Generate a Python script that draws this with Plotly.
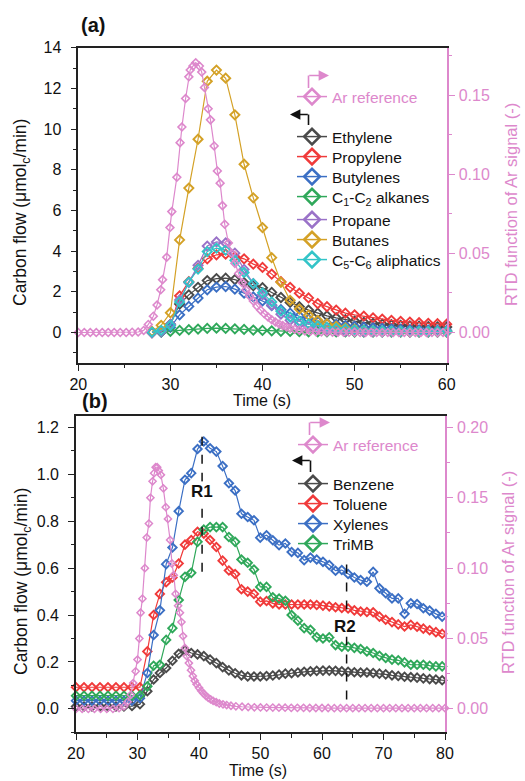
import plotly.graph_objects as go

W, H = 525, 781

# ---------------- Panel (a) data ----------------
T_A = [28, 29, 30, 31, 32, 33, 34, 35, 36, 37, 38, 39, 40, 41, 42, 43, 44,
       45, 46, 47, 48, 49, 50, 51, 52, 53, 54, 55, 56, 57, 58, 59, 60]
ethylene = [0.0, 0.05, 0.4, 1.4, 1.85, 2.22, 2.55, 2.65, 2.67, 2.6, 2.45, 2.3, 2.2, 1.97, 1.72, 1.48, 1.27,
            1.1, 0.95, 0.82, 0.72, 0.63, 0.56, 0.5, 0.45, 0.41, 0.38, 0.35, 0.33, 0.31, 0.29, 0.28, 0.27]
propylene = [0.0, 0.05, 0.35, 1.8, 2.5, 3.15, 3.62, 3.82, 3.85, 3.72, 3.62, 3.36, 3.2, 2.87, 2.5, 2.22, 1.93,
             1.7, 1.42, 1.27, 1.1, 0.95, 0.87, 0.8, 0.72, 0.66, 0.6, 0.55, 0.51, 0.48, 0.45, 0.43, 0.41]
butylenes = [0.0, 0.02, 0.25, 0.87, 1.28, 1.69, 2.1, 2.23, 2.26, 2.13, 1.93, 1.75, 1.55, 1.32, 1.12, 0.95, 0.8,
             0.66, 0.55, 0.46, 0.4, 0.34, 0.3, 0.26, 0.23, 0.2, 0.18, 0.16, 0.14, 0.13, 0.12, 0.11, 0.1]
c1c2_alkanes = [0.02, 0.03, 0.06, 0.1, 0.14, 0.17, 0.2, 0.21, 0.2, 0.18, 0.15, 0.12, 0.1, 0.08, 0.06, 0.05, 0.04,
                0.035, 0.03, 0.03, 0.025, 0.025, 0.02, 0.02, 0.02, 0.02, 0.02, 0.02, 0.02, 0.02, 0.02, 0.02, 0.02]
propane = [0.0, 0.05, 0.4, 1.6, 2.45, 3.3, 4.25, 4.45, 4.4, 3.9, 3.1, 2.4, 1.85, 1.35, 0.9, 0.6, 0.4,
           0.27, 0.18, 0.12, 0.09, 0.07, 0.05, 0.04, 0.04, 0.03, 0.03, 0.03, 0.02, 0.02, 0.02, 0.02, 0.02]
butanes = [0.05, 0.35, 0.97, 4.55, 7.1, 9.5, 12.35, 12.9, 12.5, 10.7, 8.27, 6.62, 5.16, 3.68, 2.47, 1.58, 1.15,
           0.85, 0.6, 0.43, 0.31, 0.22, 0.16, 0.12, 0.09, 0.07, 0.06, 0.05, 0.04, 0.04, 0.04, 0.04, 0.04]
c5c6_aliphatics = [0.02, 0.1, 0.35, 1.5, 2.48, 3.12, 3.98, 4.15, 4.05, 3.55, 2.95, 2.4, 1.95, 1.5, 1.05, 0.75, 0.55,
                   0.42, 0.32, 0.25, 0.2, 0.16, 0.13, 0.11, 0.09, 0.08, 0.07, 0.06, 0.05, 0.05, 0.05, 0.05, 0.05]

T_AR_A = [20.0, 20.65, 21.3, 21.95, 22.6, 23.25, 23.9, 24.55, 25.2, 25.85, 26.5, 27.1, 27.6, 28.15, 28.55,
          28.95, 29.15, 29.6, 29.95, 30.15, 30.7, 31.05, 31.25, 31.65, 32.0, 32.15, 32.45, 32.75, 33.15,
          33.4, 33.7, 34.1, 34.35, 34.75, 35.1, 35.4, 35.65, 35.9, 36.3, 36.65, 37.0, 37.4, 37.8, 38.2,
          38.6, 39.0, 39.4, 39.8, 40.2, 40.6, 41.0, 41.4, 41.8, 42.2, 42.6, 43.0, 43.5, 44.0, 44.6, 45.2,
          45.8, 46.4, 47.0, 47.6, 48.2, 48.8, 49.4, 50.0, 50.6, 51.2, 51.8, 52.4, 53.0, 53.6, 54.2, 54.8,
          55.4, 56.0, 56.6, 57.2, 57.8, 58.4, 59.0, 59.6]
ar_rtd_a = [0.0, 0.0, 0.0, 0.0, 0.0, 0.0, 0.0, 0.0, 0.0, 0.0002, 0.0003, 0.0013, 0.0051, 0.0103, 0.0174,
            0.027, 0.0334, 0.0476, 0.0663, 0.0764, 0.0981, 0.12, 0.1299, 0.1479, 0.1616, 0.1659, 0.1684,
            0.1705, 0.1684, 0.1646, 0.1549, 0.1414, 0.1344, 0.1179, 0.1021, 0.0944, 0.0802, 0.0684, 0.0566,
            0.0501, 0.0437, 0.0373, 0.0315, 0.027, 0.0231, 0.0199, 0.0167, 0.0141, 0.0118, 0.0098, 0.008,
            0.0066, 0.0054, 0.0044, 0.0035, 0.0027, 0.0021, 0.0015, 0.001, 0.0008, 0.0005, 0.0004, 0.0003,
            0.0002, 0.0002, 0.0001, 0.0001, 0.0001, 0.0, 0.0, 0.0, 0.0, 0.0, 0.0, 0.0, 0.0, 0.0, 0.0, 0.0,
            0.0, 0.0, 0.0, 0.0, 0.0]

# ---------------- Panel (b) data ----------------
T_B = [20.0, 21.3, 22.6, 23.9, 25.2, 26.5, 27.8, 29.1, 30.4,
       31.6, 32.62, 33.64, 34.66, 35.68, 36.7, 37.72, 38.74, 39.76, 40.78, 41.8, 42.82, 43.84,
       44.86, 45.88, 46.9, 47.92, 48.94, 49.96, 50.98, 52.0, 53.02, 54.04, 55.06, 56.08, 57.1,
       58.12, 59.14, 60.16, 61.18, 62.2, 63.22, 64.24, 65.26, 66.28, 67.3, 68.32, 69.34, 70.36,
       71.38, 72.4, 73.42, 74.44, 75.46, 76.48, 77.5, 78.52, 79.54, 80.56]
benzene = [0.01, 0.01, 0.01, 0.01, 0.01, 0.01, 0.01, 0.012, 0.02,
           0.075, 0.125, 0.153, 0.174, 0.205, 0.235, 0.25, 0.238, 0.232, 0.225, 0.21, 0.195, 0.178,
           0.164, 0.152, 0.143, 0.138, 0.138, 0.138, 0.14, 0.142, 0.146, 0.15, 0.152, 0.155, 0.158,
           0.16, 0.162, 0.163, 0.163, 0.162, 0.16, 0.158, 0.156, 0.155, 0.155, 0.153, 0.15, 0.147,
           0.143, 0.14, 0.137, 0.135, 0.133, 0.13, 0.127, 0.125, 0.122, 0.12]
toluene = [0.092, 0.092, 0.092, 0.092, 0.092, 0.092, 0.092, 0.092, 0.092,
           0.245, 0.40, 0.49, 0.54, 0.56, 0.62, 0.70, 0.72, 0.755, 0.747, 0.72, 0.69, 0.632,
           0.59, 0.575, 0.51, 0.50, 0.49, 0.457, 0.46, 0.45, 0.445, 0.445, 0.445, 0.445, 0.445,
           0.445, 0.443, 0.44, 0.437, 0.433, 0.43, 0.428, 0.42, 0.415, 0.413, 0.412, 0.393, 0.38,
           0.37, 0.36, 0.351, 0.358, 0.35, 0.342, 0.335, 0.327, 0.32, 0.318]
xylenes = [0.035, 0.035, 0.035, 0.035, 0.035, 0.035, 0.035, 0.035, 0.045,
           0.153, 0.315, 0.42, 0.617, 0.688, 0.843, 0.977, 1.005, 1.108, 1.14, 1.111, 1.097, 1.035,
           0.962, 0.931, 0.832, 0.818, 0.804, 0.730, 0.74, 0.719, 0.698, 0.705, 0.669, 0.665, 0.634,
           0.645, 0.637, 0.627, 0.613, 0.589, 0.592, 0.575, 0.56, 0.549, 0.542, 0.584, 0.514, 0.493,
           0.471, 0.471, 0.405, 0.45, 0.447, 0.429, 0.419, 0.405, 0.393, 0.41]
trimb = [0.056, 0.056, 0.056, 0.056, 0.056, 0.056, 0.056, 0.056, 0.058,
         0.096, 0.184, 0.188, 0.294, 0.344, 0.464, 0.563, 0.58, 0.712, 0.764, 0.775, 0.775, 0.775,
         0.733, 0.712, 0.637, 0.623, 0.594, 0.52, 0.52, 0.476, 0.47, 0.461, 0.40, 0.376, 0.344,
         0.337, 0.306, 0.30, 0.305, 0.272, 0.265, 0.265, 0.26, 0.255, 0.245, 0.238, 0.226, 0.217,
         0.21, 0.207, 0.198, 0.188, 0.188, 0.188, 0.184, 0.181, 0.181, 0.178]

T_AR_B = [20.0, 21.0, 22.0, 23.0, 24.0, 25.0, 26.0, 27.0, 27.8, 28.4, 28.9, 29.3, 29.7, 30.0, 30.3,
          30.5, 30.8, 31.2, 31.5, 31.85, 32.1, 32.45, 32.7, 32.95, 33.2, 33.45, 33.8, 34.2, 34.6,
          34.95, 35.3, 35.6, 35.9, 36.2, 36.6, 36.9, 37.15, 37.4, 37.7, 38.0, 38.35, 38.7, 39.0,
          39.3, 39.6, 40.0, 40.35, 40.7, 41.1, 41.5, 41.9, 42.3, 42.8, 43.3, 43.9, 44.5, 45.2, 46.0,
          47.0, 48.0, 49.0, 50.0, 51.0, 52.0, 53.0, 54.0, 55.0, 56.0, 57.0, 58.0, 59.0, 60.0, 61.0,
          62.0, 63.0, 64.0, 65.0, 66.0, 67.0, 68.0, 69.0, 70.0, 71.0, 72.0, 73.0, 74.0, 75.0, 76.0,
          77.0, 78.0, 79.0, 80.0, 80.6]
ar_rtd_b = [0.0, 0.0, 0.0, 0.0, 0.0, 0.0, 0.0, 0.0005, 0.0017, 0.005, 0.01, 0.0183, 0.0267, 0.035,
            0.05, 0.0683, 0.0783, 0.1, 0.1217, 0.1317, 0.15, 0.1617, 0.1675, 0.1717, 0.1717, 0.1693,
            0.1663, 0.1567, 0.1433, 0.135, 0.12, 0.1033, 0.095, 0.0817, 0.0733, 0.0683, 0.0617, 0.0517,
            0.0433, 0.0375, 0.0325, 0.0275, 0.0233, 0.02, 0.0175, 0.015, 0.0128, 0.011, 0.0093, 0.0078,
            0.0067, 0.0057, 0.0047, 0.0038, 0.0032, 0.0027, 0.0022, 0.0018, 0.0015, 0.0013, 0.0011,
            0.001, 0.0009, 0.0009, 0.0008, 0.0008, 0.0007, 0.0007, 0.0007, 0.0006, 0.0006, 0.0006,
            0.0006, 0.0005, 0.0005, 0.0005, 0.0005, 0.0005, 0.0005, 0.0005, 0.0005, 0.0005, 0.0005,
            0.0005, 0.0005, 0.0005, 0.0005, 0.0005, 0.0005, 0.0005, 0.0005, 0.0005, 0.0005]

R1_T, R1_Y = 40.5, (0.585, 1.19)
R2_T, R2_Y = 64.0, (0.04, 0.637)

# ---------------- Styles ----------------
C_GRAY = "#4a4a4a"
C_RED = "#f03a3a"
C_BLUE = "#3b6fc4"
C_GREEN = "#2fa85a"
C_PURPLE = "#9a72c8"
C_GOLD = "#d4a126"
C_CYAN = "#33c4c8"
C_PINK = "#dd88cc"
FONT = "Arial, 'Liberation Sans', sans-serif"
TXT = "#111111"

def px(x, y):
    return x / W, 1 - y / H

fig = go.Figure()
legend_defs = {}
leg_counter = [0]

def new_legend(x_left, y_center, color):
    leg_counter[0] += 1
    key = "legend" if leg_counter[0] == 1 else f"legend{leg_counter[0]}"
    lx, ly = px(x_left, y_center - 17)
    legend_defs[key] = dict(x=lx, y=ly, xanchor="left", yanchor="top", bgcolor="rgba(0,0,0,0)",
                            font=dict(family=FONT, size=15.5, color=color),
                            itemclick=False, itemdoubleclick=False)
    return key

def add_series(x, y, name, color, xa, ya, leg_pos, size=7, lw=1.2, mlw=1.9, text_color=TXT):
    fig.add_trace(go.Scatter(
        x=x, y=y, mode="lines+markers", name=name, xaxis=xa, yaxis=ya,
        line=dict(color=color, width=lw),
        marker=dict(symbol="diamond-open", size=size, color=color, line=dict(width=mlw, color=color)),
        showlegend=False, cliponaxis=False))
    key = new_legend(leg_pos[0], leg_pos[1], text_color)
    fig.add_trace(go.Scatter(
        x=[None], y=[None], mode="lines+markers", name=name, xaxis=xa, yaxis=ya, legend=key,
        line=dict(color=color, width=1.5),
        marker=dict(symbol="diamond-open", size=12, color=color, line=dict(width=2.6, color=color)),
        showlegend=True))

LEG_XA = 292
LEG_XB = 293
series_a = [
    (ethylene, "Ethylene", C_GRAY, 137),
    (propylene, "Propylene", C_RED, 157),
    (butylenes, "Butylenes", C_BLUE, 177),
    (c1c2_alkanes, "C<sub>1</sub>-C<sub>2</sub> alkanes", C_GREEN, 197),
    (propane, "Propane", C_PURPLE, 220),
    (butanes, "Butanes", C_GOLD, 240),
    (c5c6_aliphatics, "C<sub>5</sub>-C<sub>6</sub> aliphatics", C_CYAN, 260),
]
for vals, name, col, ly in series_a:
    add_series(T_A, vals, name, col, "x", "y", (LEG_XA, ly))
add_series(T_AR_A, ar_rtd_a, "Ar reference", C_PINK, "x", "y2", (LEG_XA, 97),
           size=6, lw=1.2, mlw=1.6, text_color=C_PINK)

series_b = [
    (benzene, "Benzene", C_GRAY, 484),
    (toluene, "Toluene", C_RED, 504),
    (xylenes, "Xylenes", C_BLUE, 524),
    (trimb, "TriMB", C_GREEN, 544),
]
for vals, name, col, ly in series_b:
    add_series(T_B, vals, name, col, "x2", "y3", (LEG_XB, ly), size=6.5)
add_series(T_AR_B, ar_rtd_b, "Ar reference", C_PINK, "x2", "y4", (LEG_XB, 445),
           size=5.5, lw=1.2, mlw=1.5, text_color=C_PINK)

# ---------------- Axes ----------------
BLACK = "#222222"
tickfont = dict(family=FONT, size=16, color=TXT)
pinkfont = dict(family=FONT, size=16, color=C_PINK)

def xax(domain, anchor, rng):
    return dict(domain=domain, anchor=anchor, range=rng, showline=True, linecolor=BLACK, linewidth=1.6,
                mirror=True, ticks="outside", ticklen=6, tickwidth=1.4, tickcolor=BLACK,
                dtick=10, tick0=0, tickfont=tickfont, showgrid=False, zeroline=False, automargin=False,
                ticklabelstandoff=0,
                minor=dict(ticks="outside", ticklen=3.5, tickwidth=1.2, tickcolor=BLACK, dtick=5, tick0=0))

def yax(domain, anchor, rng, dtick, mdtick, fmt):
    return dict(domain=domain, anchor=anchor, range=rng, showline=True, linecolor=BLACK, linewidth=1.6,
                ticks="outside", ticklen=6, tickwidth=1.4, tickcolor=BLACK, dtick=dtick, tick0=0,
                tickformat=fmt, tickfont=tickfont, showgrid=False, zeroline=False, automargin=False,
                ticklabelstandoff=6,
                minor=dict(ticks="outside", ticklen=3.5, tickwidth=1.2, tickcolor=BLACK, dtick=mdtick, tick0=0))

def yrax(overlay, anchor, rng):
    return dict(overlaying=overlay, anchor=anchor, side="right", range=rng, showline=True,
                linecolor=C_PINK, linewidth=1.6, ticks="outside", ticklen=6, tickwidth=1.4,
                tickcolor=C_PINK, dtick=0.05, tick0=0, tickformat=".2f", tickfont=pinkfont,
                showgrid=False, zeroline=False, automargin=False, ticklabelstandoff=1,
                minor=dict(ticks="outside", ticklen=3.5, tickwidth=1.2, tickcolor=C_PINK, dtick=0.025, tick0=0))

xa_dom = [78.3 / W, 446.7 / W]
ya_dom = [1 - 363 / H, 1 - 47.7 / H]
xb_dom = [76 / W, 445 / W]
yb_dom = [1 - 732.3 / H, 1 - 415.7 / H]

fig.update_layout(
    xaxis=xax(xa_dom, "y", [20, 60]),
    yaxis=yax(ya_dom, "x", [-1.5, 14], 2, 1, "d"),
    yaxis2=yrax("y", "x", [-1.5 * 0.18 / 14, 0.18]),
    xaxis2=xax(xb_dom, "y3", [20, 80]),
    yaxis3=yax(yb_dom, "x2", [-0.1, 1.25], 0.2, 0.1, ".1f"),
    yaxis4=yrax("y3", "x2", [-0.1 / 6, 1.25 / 6]),
)
fig.update_layout(**legend_defs)

# ---------------- Annotations & shapes ----------------
anns = []
shapes = []

def text(x, y, s, size, color=TXT, angle=0, bold=False, xanchor="center"):
    lx, ly = px(x, y)
    anns.append(dict(x=lx, y=ly, xref="paper", yref="paper", text=f"<b>{s}</b>" if bold else s,
                     showarrow=False, textangle=angle, xanchor=xanchor, yanchor="middle",
                     font=dict(family=FONT, size=size, color=color)))

text(93, 25, "(a)", 20, bold=True)
text(95, 401, "(b)", 20, bold=True)
text(262, 400, "Time (s)", 16)
text(258, 770, "Time (s)", 16)
text(22, 213, "Carbon flow (μmol<sub>c</sub>/min)", 17.5, angle=-90)
text(22, 582, "Carbon flow (μmol<sub>c</sub>/min)", 17.5, angle=-90)
text(511, 205, "RTD function of Ar signal (-)", 16.5, color=C_PINK, angle=-90)
text(508, 573, "RTD function of Ar signal (-)", 16.5, color=C_PINK, angle=-90)

# R1 / R2 markers (panel b)
for t, (y0, y1) in [(R1_T, R1_Y), (R2_T, R2_Y)]:
    shapes.append(dict(type="line", xref="x2", yref="y3", x0=t, x1=t, y0=y0, y1=y1,
                       line=dict(color=TXT, width=1.5, dash="dash")))
anns.append(dict(x=R1_T, y=0.925, xref="x2", yref="y3", text="<b>R1</b>", showarrow=False,
                 font=dict(family=FONT, size=17, color=TXT), bgcolor="white", borderpad=0))
anns.append(dict(x=R2_T - 0.3, y=0.352, xref="x2", yref="y3", text="<b>R2</b>", showarrow=False,
                 font=dict(family=FONT, size=17, color=TXT), bgcolor="white", borderpad=0))

# bent arrows in legends
def bent_arrow(x, y_stem_end, y_bar, x_tip, color):
    x0p, y0p = px(x, y_stem_end)
    x1p, y1p = px(x, y_bar)
    shapes.append(dict(type="line", xref="paper", yref="paper", x0=x0p, y0=y0p, x1=x1p, y1=y1p,
                       line=dict(color=color, width=1.6)))
    tx, ty = px(x_tip, y_bar)
    sign = -1 if x_tip > x else 1
    anns.append(dict(x=tx, y=ty, xref="paper", yref="paper", ax=x - x_tip + sign * 0.8, ay=0, text="",
                     showarrow=True, arrowhead=2, arrowsize=1.3, arrowwidth=1.6, arrowcolor=color))

bent_arrow(308.5, 88, 75.5, 329, C_PINK)
bent_arrow(308.5, 125, 114.5, 290, TXT)
bent_arrow(309.5, 435, 422.5, 330, C_PINK)
bent_arrow(310.5, 472, 460.5, 292, TXT)

fig.update_layout(
    annotations=anns, shapes=shapes,
    width=W, height=H, margin=dict(l=0, r=0, t=0, b=0),
    paper_bgcolor="white", plot_bgcolor="white",
    font=dict(family=FONT, color=TXT),
)

fig.write_html("out.html")
